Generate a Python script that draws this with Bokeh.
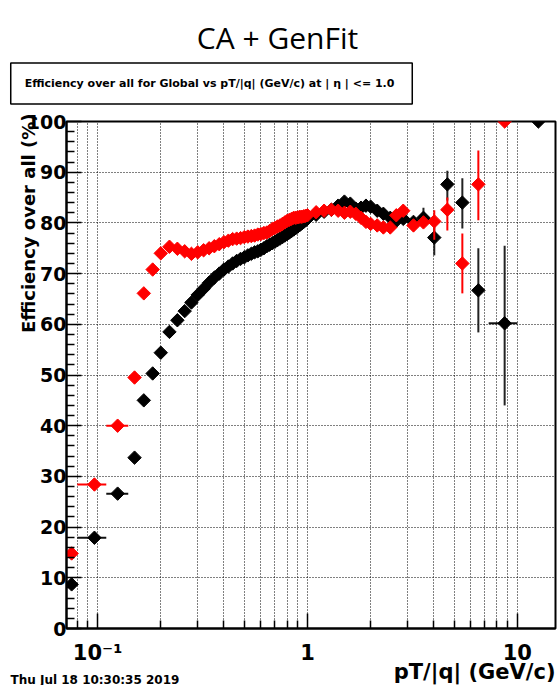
import numpy as np
from bokeh.plotting import figure
from bokeh.models import ColumnDataSource, FixedTicker, Range1d, Label
from bokeh.embed import file_html
from bokeh.resources import INLINE

# ---- data ----
pt_low = [0.0752, 0.0966, 0.1246, 0.150, 0.166, 0.183, 0.200]
pt_mid = [0.22, 0.24, 0.26, 0.28, 0.30, 0.32, 0.34, 0.36, 0.38, 0.40,
          0.42, 0.44, 0.46, 0.48, 0.50, 0.52, 0.54, 0.56, 0.58, 0.60,
          0.62, 0.64, 0.66, 0.68, 0.70, 0.72, 0.74, 0.76, 0.78, 0.80,
          0.82, 0.84, 0.86, 0.88, 0.90, 0.92, 0.94, 0.96, 0.98, 1.00]
pt_high = [1.1, 1.2, 1.3, 1.4, 1.5, 1.6, 1.7, 1.8, 1.9, 2.0,
           2.15, 2.3, 2.48, 2.65, 2.86, 3.2, 3.57, 4.02, 4.64, 5.47,
           6.52, 8.7, 12.6]

eff_black_low = [8.7, 17.9, 26.6, 33.7, 45.0, 50.3, 54.4]
eff_black_mid = [58.5, 60.8, 62.6, 64.3, 65.8, 67.0, 68.2, 69.2, 70.0, 70.8,
                 71.4, 72.0, 72.5, 72.9, 73.2, 73.6, 73.9, 74.2, 74.4, 74.7,
                 75.0, 75.4, 75.7, 76.0, 76.3, 76.6, 76.9, 77.2, 77.5, 77.8,
                 78.1, 78.4, 78.7, 79.0, 79.3, 79.6, 79.9, 80.2, 80.5, 80.8]
eff_black_high = [81.6, 82.2, 82.6, 83.4, 84.2, 83.8, 82.8, 83.0, 83.4, 83.2,
                  82.4, 81.8, 81.0, 80.4, 80.8, 80.2, 81.0, 77.1, 87.6, 84.0,
                  66.7, 60.2, 100.0]

eff_red_low = [14.8, 28.4, 40.0, 49.5, 66.1, 70.8, 74.0]
eff_red_mid = [75.3, 74.9, 74.4, 73.9, 74.2, 74.6, 75.0, 75.4, 75.8, 76.2,
               76.5, 76.8, 76.9, 77.0, 77.2, 77.3, 77.4, 77.5, 77.7, 77.8,
               78.0, 78.1, 78.4, 78.8, 79.0, 79.3, 79.5, 79.8, 80.1, 80.4,
               80.6, 80.8, 81.0, 81.0, 81.1, 81.2, 81.2, 81.3, 81.4, 81.5]
eff_red_high = [82.1, 82.4, 82.6, 82.4, 82.0, 82.2, 81.8, 81.0, 80.2, 79.8,
                79.5, 79.1, 79.1, 81.5, 82.4, 79.5, 80.1, 80.3, 82.6, 72.0,
                87.6, 100.0, float("nan")]

# vertical error bars (tail)
black_err_pt = [3.57, 4.02, 4.64, 5.47, 6.52, 8.7]
black_err_lo = [79.5, 73.6, 84.4, 78.9, 58.4, 44.0]
black_err_hi = [83.0, 79.9, 90.3, 88.8, 75.0, 75.5]
red_err_pt = [4.02, 4.64, 5.47, 6.52]
red_err_lo = [76.7, 78.5, 66.1, 80.5]
red_err_hi = [82.5, 85.0, 77.9, 94.3]

# horizontal (bin width) bars
black_bin_lo = [0.080, 0.110, 7.3]
black_bin_hi = [0.110, 0.140, 10.0]
black_bin_eff = [17.9, 26.6, 60.2]
red_bin_lo = [0.080, 0.110]
red_bin_hi = [0.110, 0.140]
red_bin_eff = [28.4, 40.0]

x_major = [0.1, 1, 10]
x_minor = [0.08, 0.09, 0.2, 0.3, 0.4, 0.5, 0.6, 0.7, 0.8, 0.9,
           2, 3, 4, 5, 6, 7, 8, 9]
y_major = [0, 10, 20, 30, 40, 50, 60, 70, 80, 90, 100]
y_minor = [v for v in range(2, 100, 2) if v % 10 != 0]

# ---- figure ----
src = ColumnDataSource(dict(
    pt=np.array(pt_low + pt_mid + pt_high),
    black=np.array(eff_black_low + eff_black_mid + eff_black_high),
    red=np.array(eff_red_low + eff_red_mid + eff_red_high),
))

p = figure(width=557, height=685, x_axis_type="log",
           x_range=Range1d(0.0711, 15.2), y_range=Range1d(0, 100),
           output_backend="svg", toolbar_location=None,
           min_border_left=66, min_border_right=2,
           min_border_top=121, min_border_bottom=57)
p.background_fill_color = "white"
p.border_fill_color = "white"
p.outline_line_color = "black"
p.outline_line_width = 2

FONT = "DejaVu Sans"

xax = p.xaxis[0]
xax.ticker = FixedTicker(ticks=x_major, minor_ticks=x_minor)
xax.major_label_overrides = {0.1: "10\u207b\u00b9", 1: "1", 10: "10"}
yax = p.yaxis[0]
yax.ticker = FixedTicker(ticks=y_major, minor_ticks=y_minor)
for ax in (xax, yax):
    ax.axis_line_color = "black"
    ax.axis_line_width = 2
    ax.major_tick_in = 15
    ax.major_tick_out = 0
    ax.minor_tick_in = 8
    ax.minor_tick_out = 0
    ax.major_tick_line_color = "black"
    ax.minor_tick_line_color = "black"
    ax.major_tick_line_width = 1.5
    ax.minor_tick_line_width = 1.5
    ax.major_label_text_font = FONT
    ax.major_label_text_font_style = "bold"
    ax.major_label_text_color = "black"
xax.major_label_text_font_size = "21px"
yax.major_label_text_font_size = "19px"
xax.major_label_standoff = 12
yax.major_label_standoff = 0

p.xgrid.grid_line_color = "black"
p.xgrid.grid_line_dash = "1 2"
p.xgrid.minor_grid_line_color = "black"
p.xgrid.minor_grid_line_dash = "1 2"
p.ygrid.grid_line_color = "black"
p.ygrid.grid_line_dash = "1 2"
p.ygrid.minor_grid_line_color = None

# error bars
p.segment(x0=black_bin_lo, y0=black_bin_eff, x1=black_bin_hi, y1=black_bin_eff,
          line_color="#111111", line_width=2)
p.segment(x0=black_err_pt, y0=black_err_lo, x1=black_err_pt, y1=black_err_hi,
          line_color="#222222", line_width=2)
p.scatter(x="pt", y="black", source=src, marker="square", angle=np.pi / 4,
          size=9.5, fill_color="black", line_color="black")

p.segment(x0=red_bin_lo, y0=red_bin_eff, x1=red_bin_hi, y1=red_bin_eff,
          line_color="red", line_width=2)
p.segment(x0=red_err_pt, y0=red_err_lo, x1=red_err_pt, y1=red_err_hi,
          line_color="red", line_width=2)
p.scatter(x="pt", y="red", source=src, marker="square", angle=np.pi / 4,
          size=9.5, fill_color="red", line_color="red")

# texts, kept in side panels so that they are not clipped to the frame
p.add_layout(Label(x=277, y=37, x_units="canvas", y_units="canvas",
                   text="CA + GenFit", text_font="Open Sans",
                   text_font_size="30px", text_align="center",
                   text_baseline="alphabetic", text_color="black"), "above")
p.add_layout(Label(x=211, y=83, x_units="canvas", y_units="canvas",
                   text="Efficiency over all for Global vs pT/|q| (GeV/c) at |  \u03b7 | <= 1.0",
                   text_font=FONT, text_font_style="bold",
                   text_font_size="11px", text_align="center",
                   text_baseline="middle", text_color="black",
                   border_line_color="black", border_line_width=1.5,
                   background_fill_color="white", padding=14), "above")
p.add_layout(Label(x=555, y=671, x_units="canvas", y_units="canvas",
                   text="pT/|q| (GeV/c)", text_font=FONT,
                   text_font_style="bold", text_font_size="21px",
                   text_align="right", text_baseline="alphabetic",
                   text_color="black"), "above")
p.add_layout(Label(x=28, y=113, x_units="canvas", y_units="canvas",
                   angle=np.pi / 2, text="Efficiency over all (%)",
                   text_font=FONT, text_font_style="bold",
                   text_font_size="18px", text_align="right",
                   text_baseline="middle", text_color="black"), "left")
p.add_layout(Label(x=10, y=679, x_units="canvas", y_units="canvas",
                   text="Thu Jul 18 10:30:35 2019", text_font=FONT,
                   text_font_style="bold", text_font_size="12px",
                   text_align="left", text_baseline="alphabetic",
                   text_color="black"), "below")

open("out.html", "w").write(file_html(p, INLINE))
